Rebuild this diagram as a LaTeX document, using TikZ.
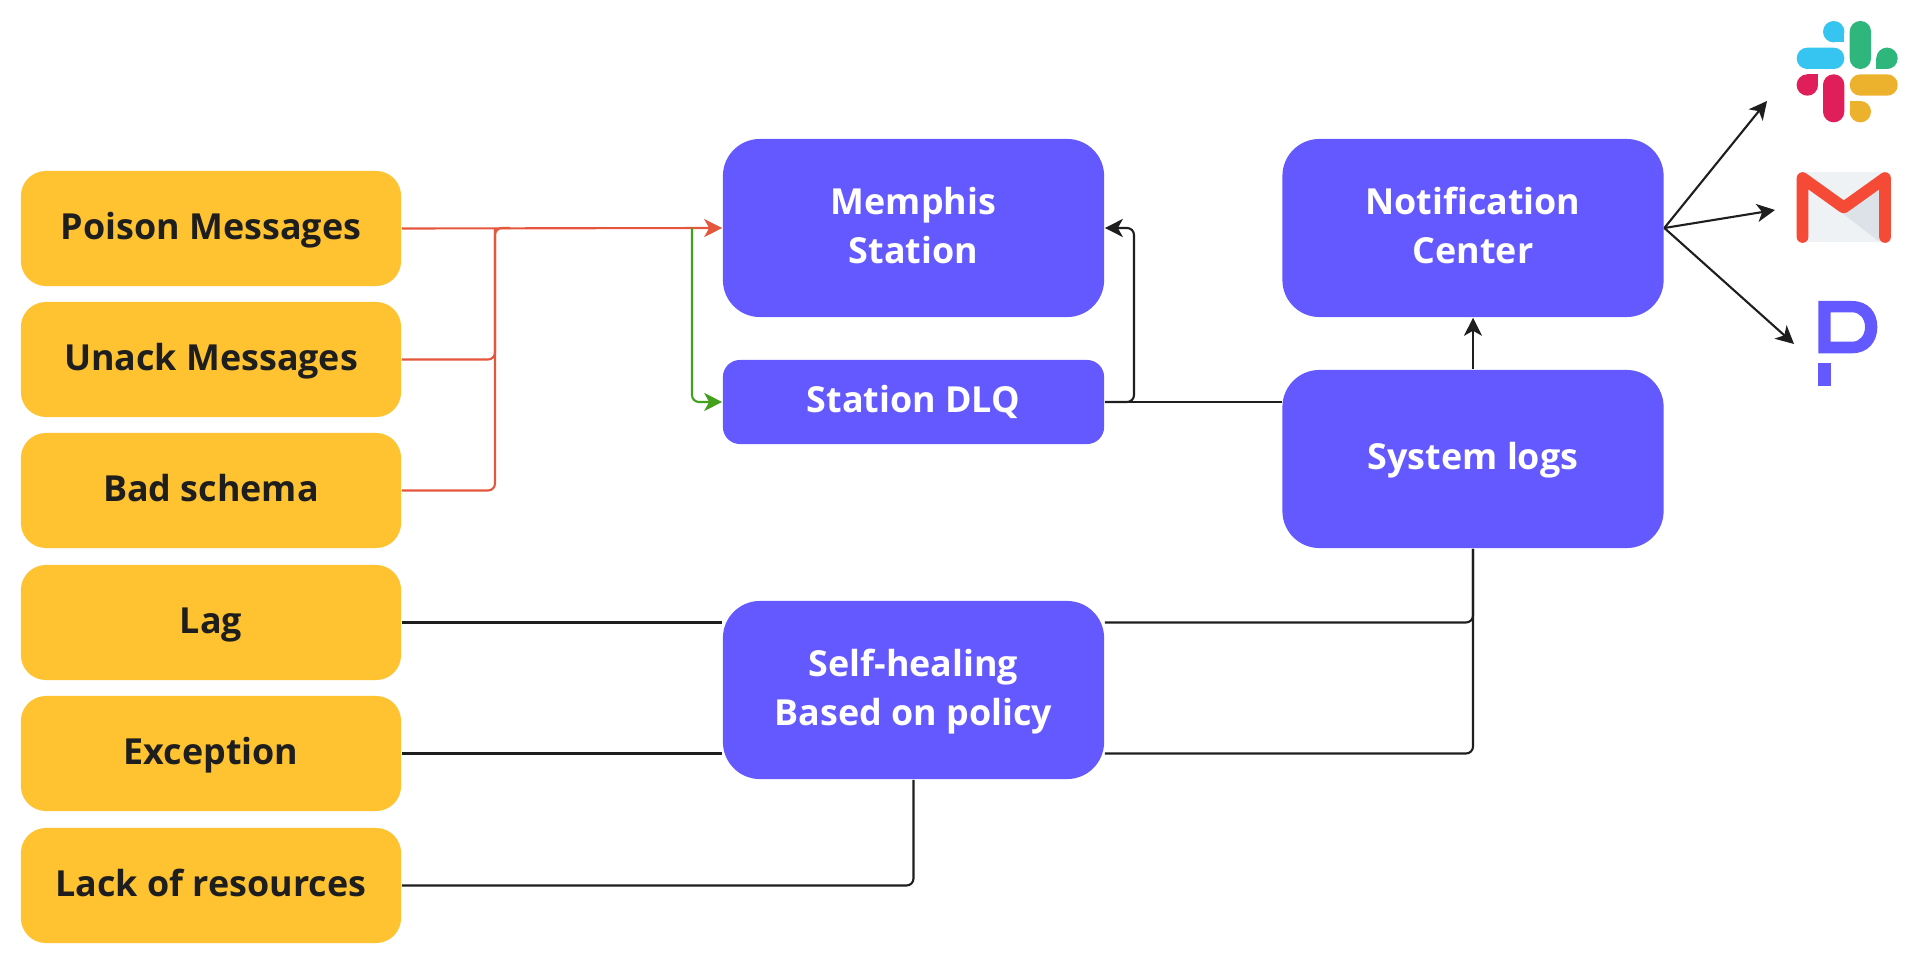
\documentclass[tikz,border=0pt]{standalone}
\usepackage{fontspec}
\setmainfont{Open Sans}
\usetikzlibrary{arrows.meta}
\definecolor{causeyellow}{HTML}{FFC331}
\definecolor{blockblue}{HTML}{6359FF}
\definecolor{inkdark}{HTML}{1E1E1E}
\definecolor{linered}{HTML}{E5573C}
\definecolor{linegreen}{HTML}{43A01A}
\definecolor{slackblue}{HTML}{36C5F0}
\definecolor{slackgreen}{HTML}{2EB67D}
\definecolor{slackred}{HTML}{E01E5A}
\definecolor{slackyellow}{HTML}{ECB22E}
\definecolor{gmailred}{HTML}{F44A36}
\definecolor{gmailpaper}{HTML}{EFF2F5}
\definecolor{gmailfold}{HTML}{DCE2E8}
\begin{document}
\begin{tikzpicture}
[x=0.01cm,y=-0.01cm,
  causedecorate/.style={shape=rectangle,rounded corners=0.25cm,fill=causeyellow,text=inkdark,
    minimum width=3.80cm,minimum height=1.15cm,align=center,text height=8.6pt,text depth=2.6pt,
    font=\fontsize{10.2}{13.9}\selectfont\bfseries},%
  blockdecorate/.style={shape=rectangle,rounded corners=0.37cm,fill=blockblue,text=white,
    minimum width=3.81cm,minimum height=1.78cm,align=center,text height=8.6pt,text depth=2.6pt,
    font=\fontsize{10.2}{13.9}\selectfont\bfseries},%
  twolinedecorate/.style={blockdecorate,text height=23pt},%
  linedecorate/.style={-,line width=0.6pt,draw=inkdark,rounded corners=0.07cm},%
  arrowdecorate/.style={linedecorate,-{Stealth[length=0.18cm,width=0.18cm,inset=0.05cm]}},%
  redline/.style={linedecorate,draw=linered},%
  redarrow/.style={arrowdecorate,draw=linered},%
  greenarrow/.style={arrowdecorate,draw=linegreen}]
\useasboundingbox (0,0) rectangle (1916,964);
%% cause boxes
\foreach \nodename/\y/\nodetext in {poison/228.5/Poison Messages, unack/359.5/Unack Messages,
  badschema/490.5/Bad schema, lag/622.5/Lag, exception/753.5/Exception, lack/885.5/Lack of resources} {
  \node (\nodename) at (211,\y) [causedecorate] {\nodetext};
}
%% blue blocks
\node (memphis) at (913.5,228) [twolinedecorate] {Memphis\\Station};
\node (dlq) at (913.5,402) [blockdecorate,minimum height=0.84cm,rounded corners=0.17cm] {Station DLQ};
\node (notification) at (1473,228) [twolinedecorate] {Notification\\Center};
\node (syslogs) at (1473,459) [blockdecorate] {System logs};
\node (healing) at (913.5,690) [twolinedecorate] {Self-healing\\Based on policy};
%% free ends and bends
\coordinate (redbend) at (495,228);
\coordinate (redjoin) at (510,228);
\coordinate (greenfork) at (692,228);
\coordinate (logsleft) at (1282,402);
\coordinate (logsbend) at (1134,402);
\coordinate (slacktip) at (1767,101);
\coordinate (gmailtip) at (1775,210);
\coordinate (pagertip) at (1794,344);
%% red and green lines
\draw[redline] (unack.east) -| (redbend);
\draw[redline] (badschema.east) -| (redbend) -- (redjoin);
\draw[redarrow] (poison.east) -- (memphis.west);
\draw[greenarrow] (greenfork) |- (dlq.west);
%% black lines
\draw[linedecorate] (dlq.east) -- (logsleft);
\draw[arrowdecorate] (dlq.east) -- (logsbend) |- (memphis.east);
\draw[arrowdecorate] (syslogs.north) -- (notification.south);
\draw[linedecorate] (lag.east) -- (healing.west |- lag.east);
\draw[linedecorate] (exception.east) -- (healing.west |- exception.east);
\draw[linedecorate] (lack.east) -| (healing.south);
\draw[linedecorate] (healing.east |- lag.east) -| (syslogs.south);
\draw[linedecorate] (healing.east |- exception.east) -| (syslogs.south);
\foreach \endnode in {slacktip, gmailtip, pagertip} {
  \draw[arrowdecorate] (notification.east) -- (\endnode);
}
%% slack icon
\foreach \colorname/\xa/\ya/\xb/\yb in {slackblue/1796.7/47.7/1844.3/69, slackgreen/1849.7/21/1871/69,
  slackred/1823/74.3/1844.3/122.3, slackyellow/1849.7/74.3/1897.7/95.7} {
  \fill[\colorname,rounded corners=0.105cm] (\xa,\ya) rectangle (\xb,\yb);
}
\foreach \colorname/\xa/\ya/\xb/\yb in {slackblue/1833.7/31.7/1844.3/42.3, slackgreen/1887/58.3/1876.3/69,
  slackred/1807.3/85/1818/74.3, slackyellow/1860.3/111.7/1849.7/101} {
  \fill[\colorname] (\xa,\ya) circle [radius=0.107cm];
  \fill[\colorname] (\xa,\ya) rectangle (\xb,\yb);
}
%% gmail icon
\fill[gmailpaper] (1800,171.7) rectangle (1888,242.5);
\fill[gmailfold] (1843.7,214.3) -- (1879.3,187) -- (1879.3,241.7) -- cycle;
\draw[gmailred,line width=0.117cm,line join=round,line cap=round]
  (1802.5,237) -- (1802.5,178) -- (1843.7,207.5) -- (1885,178) -- (1885,237);
%% pager icon
\fill[blockblue,even odd rule] (1818.3,301) -- (1852,301) .. controls (1868,301) and (1877.3,312) .. (1877.3,327)
  .. controls (1877.3,342) and (1868,353.3) .. (1852,353.3) -- (1818.3,353.3) -- cycle
  (1830.7,312.3) -- (1852,312.3) .. controls (1860,312.3) and (1865,319) .. (1865,327)
  .. controls (1865,335) and (1860,341.7) .. (1852,341.7) -- (1830.7,341.7) -- cycle;
\fill[blockblue] (1818.3,363.3) rectangle (1830.7,386);
\end{tikzpicture}
\end{document}
